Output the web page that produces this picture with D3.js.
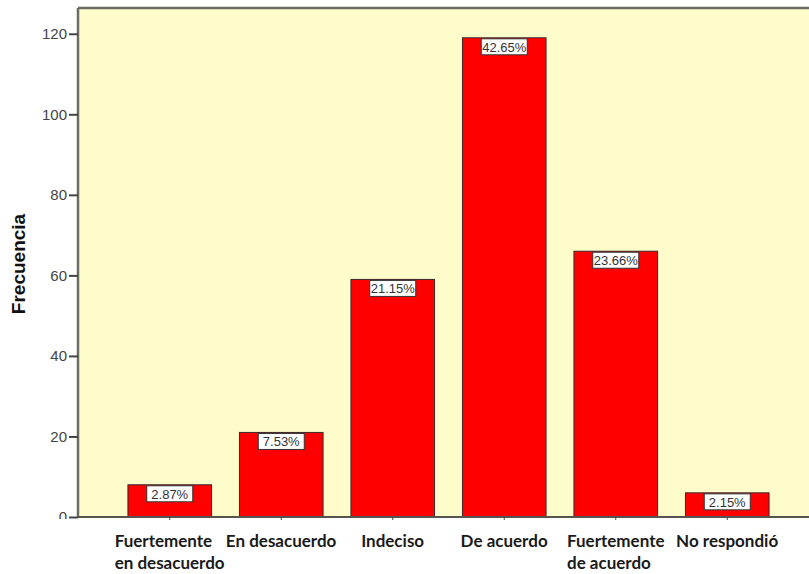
<!DOCTYPE html>
<meta charset="utf-8">
<style>
body { margin: 0; background: #fff; }
.pct { font-family: "Liberation Sans", Arial, sans-serif; font-size: 13px; fill: #333; text-anchor: middle; }
.cat { font-family: Lato, "Open Sans", sans-serif; font-weight: bold; font-size: 17px; fill: #1a1a1a; }
.ylab { font-family: "Liberation Sans", Arial, sans-serif; font-weight: bold; font-size: 19px; fill: #111; text-anchor: middle; }
</style>
<body>
<script src="https://d3js.org/d3.v7.min.js"></script>
<script>

var categories = [
  ["Fuertemente", "en desacuerdo"],
  ["En desacuerdo"],
  ["Indeciso"],
  ["De acuerdo"],
  ["Fuertemente", "de acuerdo"],
  ["No respondió"]
];
var counts = [8, 21, 59, 119, 66, 6];
var percents = ["2.87%", "7.53%", "21.15%", "42.65%", "23.66%", "2.15%"];
var yTicks = [0, 20, 40, 60, 80, 100, 120];

var width = 809,
    height = 574,
    plotLeft = 78,
    plotTop = 8,
    plotBottom = 517;

var svg = d3.select("body").append("svg")
    .attr("width", width)
    .attr("height", height);

var keys = categories.map(function(c, i) { return i; });

var x = d3.scaleBand()
    .domain(keys)
    .range([114, 783])
    .paddingInner(0.25)
    .paddingOuter(0.125);

var y = d3.scaleLinear()
    .domain([0, 126.4])
    .range([plotBottom, plotTop]);

// plot background
svg.append("rect")
    .attr("x", plotLeft)
    .attr("y", plotTop)
    .attr("width", width - plotLeft + 10)
    .attr("height", plotBottom - plotTop)
    .attr("fill", "#fffccc");

// frame
svg.append("line")
    .attr("x1", plotLeft).attr("x2", width)
    .attr("y1", plotTop).attr("y2", plotTop)
    .attr("stroke", "#6b6b63").attr("stroke-width", 2.5);

// bars
svg.selectAll(".bar")
    .data(counts)
  .enter().append("rect")
    .attr("class", "bar")
    .attr("x", function(d, i) { return x(i); })
    .attr("y", function(d) { return y(d); })
    .attr("width", x.bandwidth())
    .attr("height", function(d) { return plotBottom - y(d); })
    .attr("fill", "#ff0000")
    .attr("stroke", "#3a2a2a")
    .attr("stroke-width", 1);

// percent labels
var lab = svg.selectAll(".lab")
    .data(counts)
  .enter().append("g")
    .attr("transform", function(d, i) {
      return "translate(" + (x(i) + x.bandwidth() / 2) + "," + (y(d) + 1) + ")";
    });

lab.append("rect")
    .attr("x", -23)
    .attr("y", 0)
    .attr("width", 46)
    .attr("height", 16)
    .attr("fill", "#fff")
    .attr("stroke", "#333")
    .attr("stroke-width", 1);

lab.append("text")
    .attr("class", "pct")
    .attr("y", 13)
    .text(function(d, i) { return percents[i]; });

// y axis, clipped at the bottom like the original
svg.append("clipPath").attr("id", "yclip")
  .append("rect").attr("x", -plotLeft).attr("y", 0).attr("width", plotLeft + 2).attr("height", plotBottom + 2);

svg.append("g")
    .attr("transform", "translate(" + plotLeft + ",0)")
    .attr("clip-path", "url(#yclip)")
    .call(d3.axisLeft(y).tickValues(yTicks).tickSize(9).tickPadding(2))
    .call(function(g) {
      g.attr("font-family", "Liberation Sans, Arial, sans-serif").attr("font-size", 15);
      g.select(".domain").attr("stroke", "#6b6b63").attr("stroke-width", 2.5)
        .attr("d", "M0," + plotTop + "V" + plotBottom);
      g.selectAll(".tick line").attr("stroke", "#444").attr("stroke-width", 2);
      g.selectAll(".tick text").attr("fill", "#444");
    });

// x axis
svg.append("g")
    .attr("transform", "translate(0," + plotBottom + ")")
    .call(d3.axisBottom(x).tickSize(3).tickFormat(""))
    .call(function(g) {
      g.select(".domain").attr("stroke", "#55554d").attr("stroke-width", 2)
        .attr("d", "M" + plotLeft + ",0H" + width);
      g.selectAll(".tick line").attr("stroke", "#444");
    });

// category labels: left-aligned lines, block centred under bar
var cat = svg.selectAll(".catg")
    .data(categories)
  .enter().append("text")
    .attr("class", "cat");

cat.selectAll("tspan")
    .data(function(d) { return d; })
  .enter().append("tspan")
    .attr("dy", function(d, j) { return j === 0 ? 0 : 22; })
    .text(function(d) { return d; });

cat.each(function(d, i) {
  var t = d3.select(this);
  t.attr("y", 547);
  t.selectAll("tspan").attr("x", 0);
  var w = this.getBBox().width;
  var x0 = x(i) + x.bandwidth() / 2 - w / 2;
  t.selectAll("tspan").attr("x", x0);
});

// y label
svg.append("text")
    .attr("class", "ylab")
    .attr("transform", "translate(25,264) rotate(-90)")
    .text("Frecuencia");

</script>
